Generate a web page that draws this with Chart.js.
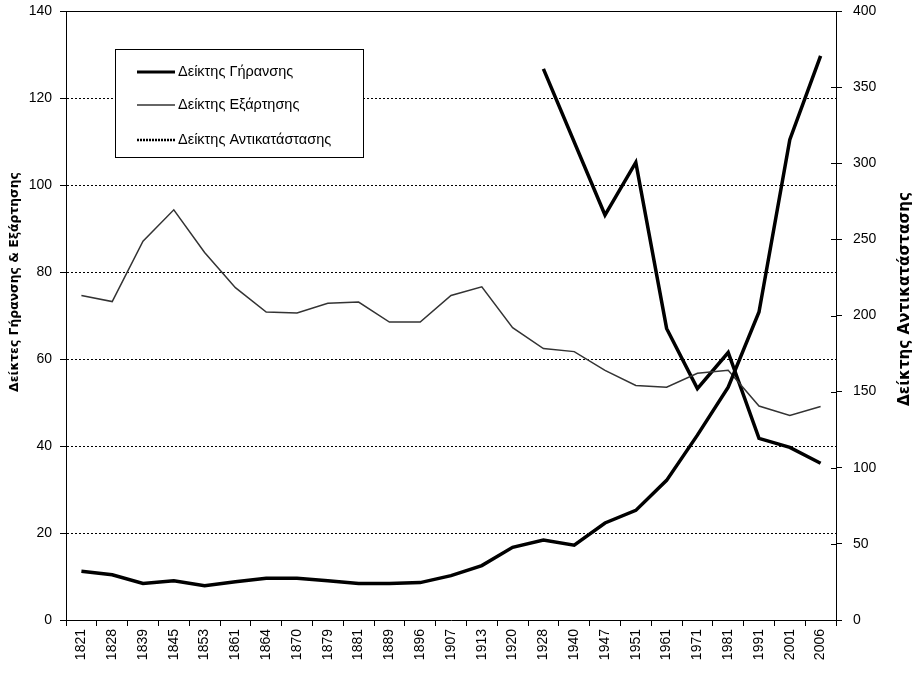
<!DOCTYPE html>
<html>
<head>
<meta charset="utf-8">
<script src="https://cdn.jsdelivr.net/npm/chart.js@4"></script>
<style>
  html, body { margin: 0; padding: 0; background: #fff; }
  #wrap { position: relative; width: 912px; height: 674px; }
</style>
</head>
<body>
<div id="wrap"><canvas id="c"></canvas></div>
<script>
const categories = ['1821','1828','1839','1845','1853','1861','1864','1870','1879','1881','1889','1896','1907','1913','1920','1928','1940','1947','1951','1961','1971','1981','1991','2001','2006'];
const ageingIndex = [11.2,10.4,8.4,9.0,7.9,8.8,9.6,9.6,9.0,8.4,8.4,8.6,10.2,12.5,16.7,18.4,17.2,22.3,25.2,32.1,42.5,53.5,70.8,110.4,129.7];
const dependencyIndex = [74.6,73.2,87.1,94.3,84.5,76.4,70.8,70.6,72.8,73.1,68.5,68.5,74.6,76.6,67.2,62.4,61.7,57.4,53.9,53.5,56.7,57.4,49.2,47.0,49.1];
const replacementIndex = [null,null,null,null,null,null,null,null,null,null,null,null,null,null,null,362,null,266,300.5,191.5,152,175.7,119.3,113.4,103];
const leftTicks = [0,20,40,60,80,100,120,140];
const rightTicks = [0,50,100,150,200,250,300,350,400];
const seriesNames = ['Δείκτης Γήρανσης','Δείκτης Εξάρτησης','Δείκτης Αντικατάστασης'];
const leftTitle = 'Δείκτες Γήρανσης & Εξάρτησης';
const rightTitle = 'Δείκτης Αντικατάστασης';

const tickFont = { family: 'Liberation Sans, Arial, sans-serif', size: 14 };

function fitText(ctx, text, target, base) {
  ctx.font = 'bold ' + base + 'px "DejaVu Sans", sans-serif';
  const w = ctx.measureText(text).width;
  const size = base * target / w;
  ctx.font = 'bold ' + size.toFixed(2) + 'px "DejaVu Sans", sans-serif';
}

const overlay = {
  id: 'overlay',
  afterDraw(chart) {
    const ctx = chart.ctx;
    const a = chart.chartArea;
    ctx.save();
    // top border
    ctx.strokeStyle = '#000';
    ctx.lineWidth = 1;
    ctx.beginPath();
    ctx.moveTo(a.left, Math.round(a.top) + 0.5);
    ctx.lineTo(a.right, Math.round(a.top) + 0.5);
    ctx.stroke();
    // inner tick marks on the right axis
    const y1 = chart.scales.y1;
    ctx.beginPath();
    y1.ticks.forEach(t => {
      const py = Math.round(y1.getPixelForValue(t.value)) + 0.5;
      ctx.moveTo(a.right - 5, py);
      ctx.lineTo(a.right, py);
    });
    ctx.stroke();
    // axis titles (both read bottom-to-top)
    ctx.fillStyle = '#000';
    ctx.textAlign = 'center';
    ctx.textBaseline = 'middle';
    ctx.save();
    fitText(ctx, leftTitle, 220, 13);
    ctx.translate(15, 282);
    ctx.rotate(-Math.PI / 2);
    ctx.fillText(leftTitle, 0, 0);
    ctx.restore();
    ctx.save();
    fitText(ctx, rightTitle, 214, 13);
    ctx.translate(905, 299);
    ctx.rotate(-Math.PI / 2);
    ctx.fillText(rightTitle, 0, 0);
    ctx.restore();
    // legend box
    const bx = 115, by = 49, bw = 248, bh = 108;
    ctx.fillStyle = '#fff';
    ctx.fillRect(bx, by, bw, bh);
    ctx.strokeStyle = '#000';
    ctx.lineWidth = 1;
    ctx.strokeRect(bx + 0.5, by + 0.5, bw, bh);
    const rows = [72, 105, 140];
    const sampleDash = [[], [], [2, 1]];
    const sampleWidth = [3, 1.4, 2.5];
    chart.data.datasets.forEach((ds, i) => {
      const y = rows[i];
      ctx.save();
      ctx.strokeStyle = ds.borderColor;
      ctx.lineWidth = sampleWidth[i];
      ctx.setLineDash(sampleDash[i]);
      ctx.beginPath();
      ctx.moveTo(137, y);
      ctx.lineTo(175, y);
      ctx.stroke();
      ctx.restore();
      ctx.fillStyle = '#000';
      ctx.font = '14.5px "Liberation Sans", Arial, sans-serif';
      ctx.textAlign = 'left';
      ctx.textBaseline = 'middle';
      ctx.fillText(ds.label, 178, y);
    });
    ctx.restore();
  }
};

function noPad(s) { s.paddingTop = 0; s.paddingBottom = 0; }

new Chart(document.getElementById('c'), {
  type: 'line',
  data: {
    labels: categories,
    datasets: [
      { label: seriesNames[0], data: ageingIndex, yAxisID: 'y', borderColor: '#000', borderWidth: 3.5, pointRadius: 0, tension: 0 },
      { label: seriesNames[1], data: dependencyIndex, yAxisID: 'y', borderColor: '#333333', borderWidth: 1.5, pointRadius: 0, tension: 0 },
      { label: seriesNames[2], data: replacementIndex, yAxisID: 'y1', borderColor: '#000', borderWidth: 3.5, pointRadius: 0, tension: 0, spanGaps: true }
    ]
  },
  options: {
    responsive: true,
    maintainAspectRatio: false,
    animation: false,
    layout: { padding: { top: 11, left: 0, right: 0, bottom: 0 } },
    plugins: { legend: { display: false }, tooltip: { enabled: false } },
    scales: {
      x: {
        type: 'category',
        offset: true,
        grid: { offset: true, drawOnChartArea: false, tickLength: 6, tickColor: '#000', color: '#000' },
        border: { color: '#000', width: 1 },
        ticks: { color: '#000', font: tickFont, minRotation: 90, maxRotation: 90, autoSkip: false, padding: 3 },
        afterFit(s) { s.height = 54; s.paddingLeft = 0; s.paddingRight = 0; }
      },
      y: {
        position: 'left',
        min: 0, max: 140,
        afterBuildTicks(s) { s.ticks = leftTicks.map(v => ({ value: v })); },
        grid: {
          color: (c) => (c.tick && (c.tick.value === 0 || c.tick.value === 140)) ? 'rgba(0,0,0,0)' : '#000',
          tickColor: '#000', tickLength: 6, lineWidth: 1
        },
        border: { color: '#000', width: 1, dash: [2, 2] },
        ticks: { color: '#000', font: tickFont, padding: 8 },
        afterFit(s) { s.width = 66; noPad(s); }
      },
      y1: {
        position: 'right',
        min: 0, max: 400,
        afterBuildTicks(s) { s.ticks = rightTicks.map(v => ({ value: v })); },
        grid: { drawOnChartArea: false, tickColor: '#000', tickLength: 6, color: '#000' },
        border: { color: '#000', width: 1 },
        ticks: { color: '#000', font: tickFont, padding: 11 },
        afterFit(s) { s.width = 76; noPad(s); }
      }
    }
  },
  plugins: [overlay]
});
</script>
</body>
</html>
